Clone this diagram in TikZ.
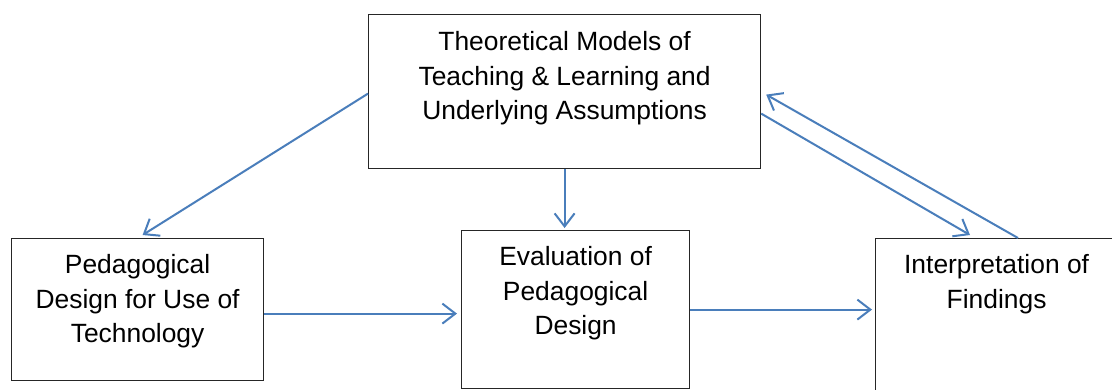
\documentclass[tikz,border=0pt]{standalone}
\usepackage{fontspec}
\setmainfont{Liberation Sans}
\usetikzlibrary{arrows.meta,calc}
\definecolor{arrowblue}{RGB}{74,126,187}
\newcommand{\bxtext}[4]{\parbox[b][#2pt][t]{#1pt}{\centering\rule{0pt}{#3pt}#4}}
\begin{document}
\begin{tikzpicture}[x=1pt,y=-1pt,
  box/.style={draw=black!85,line width=1.2pt,inner sep=0pt,anchor=north west,
    font=\fontsize{26.4}{34.5}\selectfont},
  conn/.style={draw=arrowblue,line width=2pt,
    -{Straight Barb[length=13pt,width=20pt,line width=2pt]}}]
\useasboundingbox (0,0) rectangle (1112,389);
\clip (0,0) rectangle (1112,389);
\fill[white] (0,0) rectangle (1112,389);
\node[box] (top) at (368,14) {\bxtext{392}{154}{36}{Theoretical Models of\\Teaching \& Learning and\\Underlying Assumptions}};
\node[box] (left) at (11,238) {\bxtext{252}{142}{35}{Pedagogical\\Design for Use of\\Technology}};
\node[box] (mid) at (461,230) {\bxtext{228}{158}{35}{Evaluation of\\Pedagogical\\Design}};
\node[box] (right) at (875,238) {\bxtext{242}{160}{35}{Interpretation of\\Findings}};
\draw[conn] ([yshift=-2pt]top.west) -- ([xshift=5pt,yshift=3pt]left.north);
\draw[conn] (top.south) -- ([yshift=2pt]top.south |- mid.north);
\draw[conn] ([yshift=-4pt]left.east) -- ([xshift=-4pt,yshift=-4pt]mid.west |- left.east);
\draw[conn] (mid.east) -- ([xshift=-3pt]mid.east -| right.west);
\draw[conn] ([yshift=-22pt]top.east) -- ([xshift=95pt,yshift=3pt]right.north west);
\draw[conn] ([xshift=143pt]right.north west) -- ([xshift=5pt,yshift=-3pt]top.east);
\end{tikzpicture}
\end{document}
